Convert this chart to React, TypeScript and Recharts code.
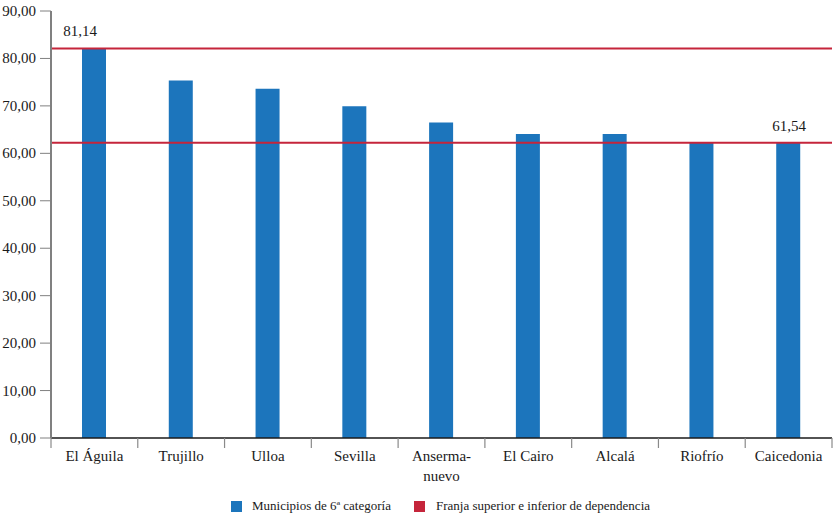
import React from "react"
import { BarChart, Bar, XAxis, YAxis, ReferenceLine, Legend } from "recharts"

// municipios (orden del gráfico)
const municipios = [
  "El Águila",
  "Trujillo",
  "Ulloa",
  "Sevilla",
  "Ansermanuevo",
  "El Cairo",
  "Alcalá",
  "Riofrío",
  "Caicedonia",
]
// etiquetas del eje x (con salto de línea)
const tickLabels = [
  "El Águila",
  "Trujillo",
  "Ulloa",
  "Sevilla",
  "Anserma-\nnuevo",
  "El Cairo",
  "Alcalá",
  "Riofrío",
  "Caicedonia",
]
const valores = [82.11, 75.36, 73.6, 69.93, 66.49, 64.1, 64.1, 62.21, 62.21]

// franja superior e inferior (posición) y sus rótulos
const franjas = [82.11, 62.21]
const franjaRotulos = ["81,14", "61,54"]

const yTicks = [0, 10, 20, 30, 40, 50, 60, 70, 80, 90]

const serieNombres = ["Municipios de 6ª categoría", "Franja superior e inferior de dependencia"]

const AZUL = "#1c75bc"
const ROJO = "#c5253b"
const FONT = "Liberation Serif"
const TXT = { fontFamily: FONT }

const data = municipios.map((m, i) => ({ municipio: m, label: tickLabels[i], valor: valores[i] }))

function CategoryTick(props: any) {
  const { x, y, payload, index, width } = props
  const band = (width || 781) / municipios.length
  const lines = (tickLabels[index] ?? String(payload.value)).split("\n")
  const axisY = y - 8
  const left = x - band / 2
  const right = x + band / 2
  return (
    <g>
      <line x1={left} x2={left} y1={axisY} y2={axisY + 10} stroke="#8a8a8a" strokeWidth={1.2} />
      {index === municipios.length - 1 && (
        <line x1={right} x2={right} y1={axisY} y2={axisY + 10} stroke="#8a8a8a" strokeWidth={1.2} />
      )}
      <text x={x} y={axisY + 23} textAnchor="middle" fontSize={15} style={TXT} fill="#1a1a1a">
        {lines.map((l: string, i: number) => (
          <tspan key={i} x={x} dy={i === 0 ? 0 : 20}>
            {l}
          </tspan>
        ))}
      </text>
    </g>
  )
}

function YTick(props: any) {
  const { x, y, payload } = props
  return (
    <text x={x} y={y + 5} textAnchor="end" fontSize={15} style={TXT} fill="#1a1a1a">
      {Number(payload.value).toFixed(2).replace(".", ",")}
    </text>
  )
}

function BandLabel(props: any) {
  const { viewBox, value, side } = props
  if (!viewBox) return null
  const { x, y, width } = viewBox
  const tx = side === "left" ? x + 29 : x + width - 26
  return (
    <text
      x={tx}
      y={y - 12}
      textAnchor={side === "left" ? "middle" : "end"}
      fontSize={15}
      style={TXT}
      fill="#1a1a1a"
    >
      {value}
    </text>
  )
}

function LegendContent() {
  const colores = [AZUL, ROJO]
  return (
    <div
      style={{
        height: 25,
        boxSizing: "border-box",
        paddingTop: 7,
        paddingLeft: 231,
        display: "flex",
        alignItems: "center",
        fontFamily: FONT,
        fontSize: 13,
        color: "#1a1a1a",
      }}
    >
      {serieNombres.map((n, i) => (
        <div key={n} style={{ display: "flex", alignItems: "center", marginRight: 23 }}>
          <span style={{ width: 11, height: 11, background: colores[i], marginRight: i === 0 ? 10 : 11 }} />
          <span>{n}</span>
        </div>
      ))}
    </div>
  )
}

export default function App() {
  return (
    <div
      style={{
        position: "absolute",
        left: 0,
        top: 0,
        width: 833,
        height: 515,
        background: "#fff",
        fontFamily: FONT,
      }}
    >
      <BarChart
        width={833}
        height={515}
        data={data}
        margin={{ top: 11, right: 1, left: 0, bottom: 0 }}
        style={{ fontFamily: FONT }}
      >
        <XAxis
          dataKey="municipio"
          height={52}
          interval={0}
          axisLine={{ stroke: "#1a1a1a", strokeWidth: 1.5 }}
          tickLine={false}
          tick={<CategoryTick />}
        />
        <YAxis
          width={51}
          domain={[0, 90]}
          ticks={yTicks}
          interval={0}
          axisLine={{ stroke: "#808080", strokeWidth: 2 }}
          tickLine={{ stroke: "#808080" }}
          tickSize={11}
          tickMargin={4}
          tick={<YTick />}
        />
        <Legend verticalAlign="bottom" content={<LegendContent />} wrapperStyle={{ height: 25 }} />
        <Bar dataKey="valor" fill={AZUL} barSize={24} isAnimationActive={false} name={serieNombres[0]} />
        <ReferenceLine
          y={franjas[0]}
          stroke={ROJO}
          strokeWidth={2}
          label={<BandLabel value={franjaRotulos[0]} side="left" />}
        />
        <ReferenceLine
          y={franjas[1]}
          stroke={ROJO}
          strokeWidth={2}
          label={<BandLabel value={franjaRotulos[1]} side="right" />}
        />
      </BarChart>
    </div>
  )
}
